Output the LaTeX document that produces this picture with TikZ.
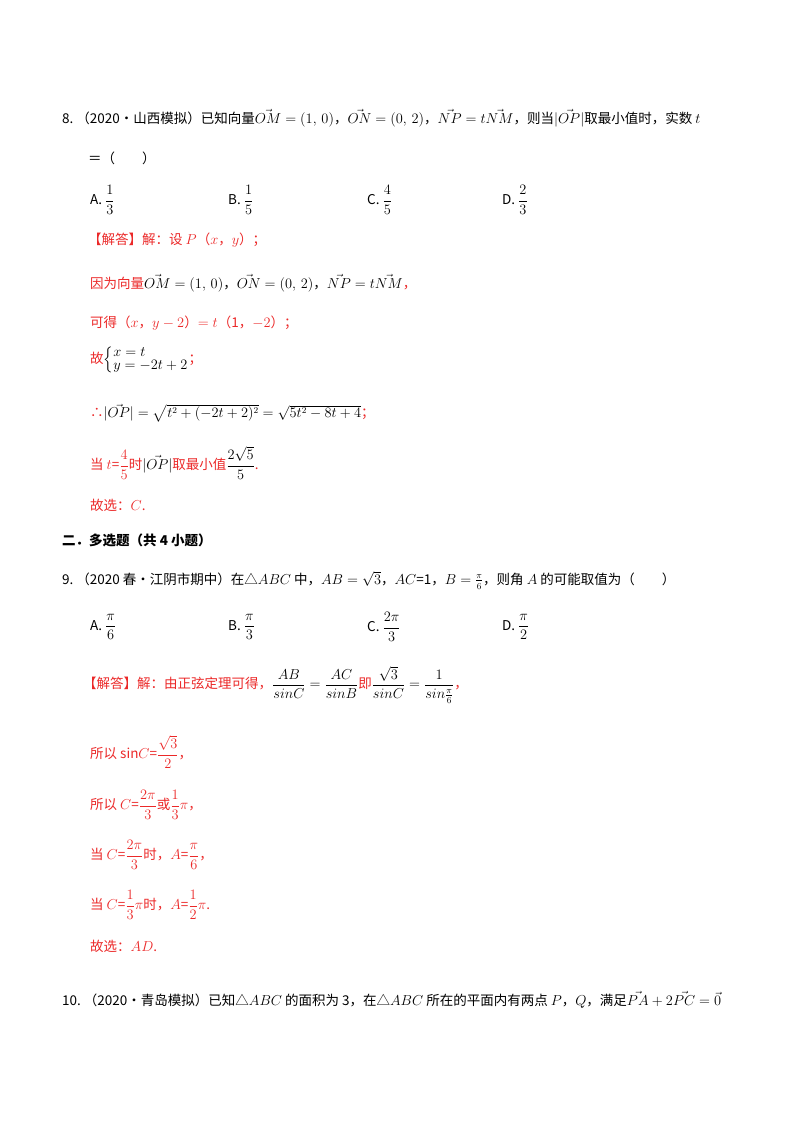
\documentclass[tikz,border=0pt]{standalone}
\usepackage{amsmath}
\usepackage{fontspec}
\setmainfont{Noto Sans CJK SC}
\usepackage{tikz}
\usetikzlibrary{positioning}
\definecolor{answer}{RGB}{235, 40, 40}

\begin{document}
\begin{tikzpicture}[x=1pt, y=-1pt,
            line/.style={anchor=west, inner sep=0pt, font=\fontsize{13.5}{15}\selectfont},
            answer/.style={line, text=answer},
            option/.style={line},
        ]
            \useasboundingbox (0,0) rectangle (800,1132);

            % question 8
            \node [line] (q8) at (62,118) {8.\ （2020•山西模拟）已知向量$\vec{OM}=(1,\,0)$，$\vec{ON}=(0,\,2)$，$\vec{NP}=t\vec{NM}$，则当$|\vec{OP}|$取最小值时，实数 $t$};
            \node [line] (q8b) at (88,158) {＝（\qquad）};
            \node [option] (q8a) at (90,200) {A.\ $\dfrac{1}{3}$};
            \node [option] (q8bb) at (228,200) {B.\ $\dfrac{1}{5}$};
            \node [option] (q8c) at (367,200) {C.\ $\dfrac{4}{5}$};
            \node [option] (q8d) at (502,200) {D.\ $\dfrac{2}{3}$};

            \node [answer] (s8a) at (88,240) {【解答】解：设 $P$（$x$，$y$）；};
            \node [answer] (s8b) at (90,283) {因为向量\textcolor{black}{$\vec{OM}=(1,\,0)$，$\vec{ON}=(0,\,2)$，$\vec{NP}=t\vec{NM}$}，};
            \node [answer] (s8c) at (90,323) {可得（$x$，$y-2$）$=t$（1，$-2$）；};
            \node [answer] (s8d) at (90,360) {故\textcolor{black}{$\left\{\renewcommand{\arraystretch}{0.85}\begin{array}{@{}l@{}}x=t\\y=-2t+2\end{array}\right.$}；};
            \node [answer] (s8e) at (90,413) {∴\textcolor{black}{$|\vec{OP}|=\sqrt{t^2+(-2t+2)^2}=\sqrt{5t^2-8t+4}$}；};
            \node [answer] (s8f) at (90,463) {当 $t$=$\dfrac{4}{5}$时\textcolor{black}{$|\vec{OP}|$}取最小值\textcolor{black}{$\dfrac{2\sqrt5}{5}$}.};
            \node [answer] (s8g) at (90,505) {故选：$C$.};

            % section
            \node [line, font=\fontsize{13.5}{15}\bfseries\selectfont] (sec2) at (62,540) {二．多选题（共 4 小题）};

            % question 9
            \node [line] (q9) at (62,580) {9.\ （2020 春•江阴市期中）在△$ABC$ 中，$AB=\sqrt3$，$AC$=1，$B=\frac{\pi}{6}$，则角 $A$ 的可能取值为（\qquad）};
            \node [option] (q9a) at (90,627) {A.\ $\dfrac{\pi}{6}$};
            \node [option] (q9b) at (228,627) {B.\ $\dfrac{\pi}{3}$};
            \node [option] (q9c) at (367,627) {C.\ $\dfrac{2\pi}{3}$};
            \node [option] (q9d) at (502,627) {D.\ $\dfrac{\pi}{2}$};

            \node [answer] (s9a) at (83,685) {【解答】解：由正弦定理可得，\textcolor{black}{$\dfrac{AB}{sinC}=\dfrac{AC}{sinB}$}即\textcolor{black}{$\dfrac{\sqrt3}{sinC}=\dfrac{1}{sin\frac{\pi}{6}}$}，};
            \node [answer] (s9b) at (90,752) {所以 sin$C$=$\dfrac{\sqrt3}{2}$，};
            \node [answer] (s9c) at (90,805) {所以 $C$=$\dfrac{2\pi}{3}$或$\dfrac{1}{3}\pi$，};
            \node [answer] (s9d) at (90,855) {当 $C$=$\dfrac{2\pi}{3}$时，$A$=$\dfrac{\pi}{6}$，};
            \node [answer] (s9e) at (90,905) {当 $C$=$\dfrac{1}{3}\pi$时，$A$=$\dfrac{1}{2}\pi$.};
            \node [answer] (s9f) at (90,946) {故选：$AD$.};

            % question 10
            \node [line] (q10) at (62,1000) {10.\ （2020•青岛模拟）已知△$ABC$ 的面积为 3，在△$ABC$ 所在的平面内有两点 $P$，$Q$，满足$\vec{PA}+2\vec{PC}=\vec{0}$};
\end{tikzpicture}
\end{document}
